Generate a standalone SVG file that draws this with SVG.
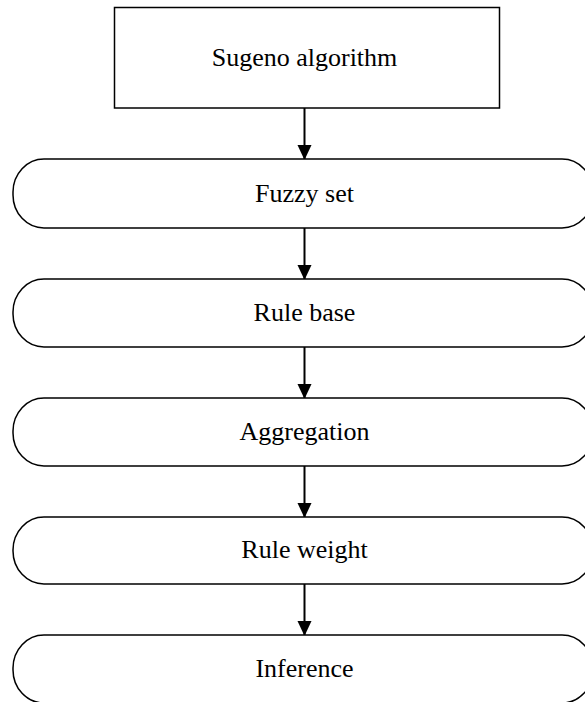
<svg xmlns="http://www.w3.org/2000/svg" width="585" height="702" viewBox="0 0 585 702">
<defs>
<style>
.box{fill:#fff;stroke:#000;stroke-width:1.5}
.lbl{font-family:"Liberation Serif","Times New Roman",serif;font-size:26px;fill:#000;text-anchor:middle}
.con{stroke:#000;stroke-width:2;fill:none}
</style>
<marker id="ah" markerWidth="15" markerHeight="16" refX="15" refY="7.5" orient="auto" markerUnits="userSpaceOnUse" viewBox="0 0 16 15">
<path d="M0,0 L16,7.5 L0,15 Z" fill="#000"/>
</marker>
</defs>
<rect width="585" height="702" fill="#fff"/>
<g id="connectors">
<line class="con" x1="304.5" y1="108" x2="304.5" y2="159" marker-end="url(#ah)"/>
<line class="con" x1="304.5" y1="228" x2="304.5" y2="279" marker-end="url(#ah)"/>
<line class="con" x1="304.5" y1="347" x2="304.5" y2="398" marker-end="url(#ah)"/>
<line class="con" x1="304.5" y1="466" x2="304.5" y2="517" marker-end="url(#ah)"/>
<line class="con" x1="304.5" y1="584" x2="304.5" y2="635" marker-end="url(#ah)"/>
</g>
<g id="sugeno">
<rect class="box" x="114.5" y="7.5" width="385" height="100.5"/>
<text class="lbl" x="304.5" y="66">Sugeno algorithm</text>
</g>
<g id="fuzzy-set">
<rect class="box" x="13" y="159" width="580" height="69" rx="31" ry="33"/>
<text class="lbl" x="304.5" y="201.5">Fuzzy set</text>
</g>
<g id="rule-base">
<rect class="box" x="13" y="279" width="580" height="68" rx="31" ry="33"/>
<text class="lbl" x="304.5" y="321">Rule base</text>
</g>
<g id="aggregation">
<rect class="box" x="13" y="398" width="580" height="68" rx="31" ry="33"/>
<text class="lbl" x="304.5" y="440">Aggregation</text>
</g>
<g id="rule-weight">
<rect class="box" x="13" y="517" width="580" height="67" rx="31" ry="33"/>
<text class="lbl" x="304.5" y="558">Rule weight</text>
</g>
<g id="inference">
<rect class="box" x="13" y="635" width="580" height="68" rx="31" ry="33"/>
<text class="lbl" x="304.5" y="677">Inference</text>
</g>
</svg>
